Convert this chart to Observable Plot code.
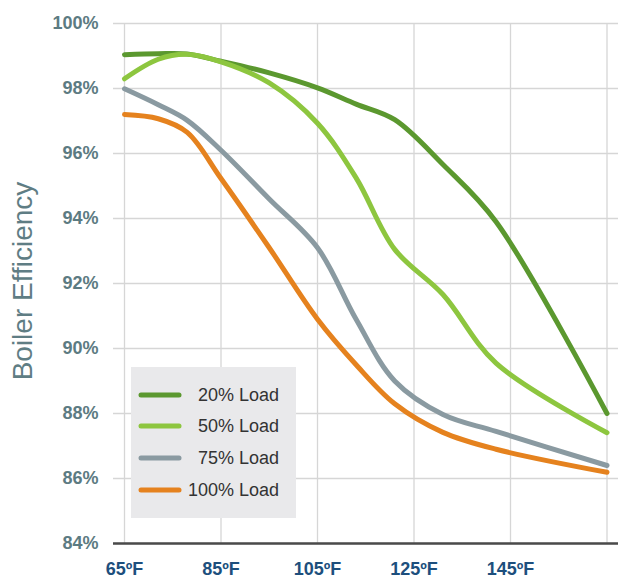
<!DOCTYPE html>
<html>
<head>
<meta charset="utf-8">
<script src="https://cdn.jsdelivr.net/npm/d3@7"></script>
<script src="https://cdn.jsdelivr.net/npm/@observablehq/plot@0.6"></script>
<style>
  body { margin: 0; background: #fff; }
  #chart { position: relative; width: 618px; height: 578px; font-family: "Liberation Sans", Arial, sans-serif; }
  #chart > svg { position: absolute; left: 0; top: 0; }
  #ylabel {
    position: absolute; left: 23px; top: 281px;
    transform: translate(-50%, -50%) rotate(-90deg);
    font-size: 28px; color: #5f7d84; white-space: nowrap; line-height: 1;
  }
  #legend { position: absolute; left: 131px; top: 367px; width: 165px; height: 151px; background: #e9e9eb; }
  #legend .row { position: absolute; left: 0; width: 165px; height: 32px; }
  #legend .row svg { position: absolute; left: 7px; top: 11px; }
  #legend .row span { position: absolute; right: 17px; top: 5px; font-size: 18px; color: #333; line-height: 22px; }
</style>
</head>
<body>
<div id="chart">
  <div id="ylabel">Boiler Efficiency</div>
  <div id="legend"></div>
</div>
<script>
// Outdoor reset temperatures (°F) at which efficiency was read
const temps = [65, 72, 78, 85, 95, 105, 113, 121, 131, 142, 165];

// Boiler efficiency (%) by firing rate
const load20  = [99.04, 99.07, 99.06, 98.84, 98.48, 98.02, 97.52, 97.04, 95.66, 93.9, 88.0];
const load50  = [98.3, 98.9, 99.05, 98.82, 98.17, 96.93, 95.25, 93.05, 91.66, 89.55, 87.41];
const load75  = [97.99, 97.5, 97.02, 96.1, 94.6, 93.1, 90.9, 89.0, 87.97, 87.45, 86.4];
const load100 = [97.2, 97.07, 96.65, 95.23, 93.1, 90.9, 89.5, 88.3, 87.42, 86.9, 86.19];

const seriesNames = ["20% Load", "50% Load", "75% Load", "100% Load"];
const seriesColors = ["#5b982f", "#8dc63f", "#8a9aa1", "#e5821e"];
const seriesValues = [load20, load50, load75, load100];

const yTicks = [84, 86, 88, 90, 92, 94, 96, 98, 100];
const xTicks = [65, 85, 105, 125, 145];
const xGrid = [65, 85, 105, 125, 145, 165];

const rows = seriesNames.flatMap((name, k) =>
  temps.map((t, i) => ({series: name, temp: t, eff: seriesValues[k][i]}))
);

const chart = Plot.plot({
  width: 618,
  height: 578,
  marginTop: 23,
  marginBottom: 35,
  marginLeft: 113,
  marginRight: 0,
  style: {fontFamily: "'Liberation Sans', Arial, sans-serif", fontSize: "18px", fontWeight: "bold", background: "transparent", overflow: "visible"},
  x: {domain: [65, 165], range: [124, 606.5]},
  y: {domain: [84, 100]},
  color: {domain: seriesNames, range: seriesColors},
  marks: [
    Plot.gridY(yTicks, {stroke: "#d6d6d6", strokeOpacity: 1, strokeWidth: 1.3}),
    Plot.gridX(xGrid, {stroke: "#d6d6d6", strokeOpacity: 1, strokeWidth: 1.3}),
    Plot.ruleY([84], {stroke: "#4a4a4a", strokeWidth: 2.6}),
    Plot.axisY(yTicks, {tickSize: 0, tickPadding: 15, tickFormat: d => d + "%", color: "#5c7b82", label: null}),
    Plot.axisX(xTicks, {tickSize: 0, tickPadding: 19, tickFormat: d => d + "ºF", color: "#1d4f7d", label: null}),
    Plot.line(rows, {x: "temp", y: "eff", z: "series", stroke: "series", strokeWidth: 5, curve: "catmull-rom", strokeLinecap: "round", strokeLinejoin: "round"})
  ]
});
const holder = document.getElementById("chart");
holder.insertBefore(chart, holder.firstChild);

// Legend with line swatches
const legend = document.getElementById("legend");
seriesNames.forEach((name, i) => {
  const row = document.createElement("div");
  row.className = "row";
  row.style.top = (11.5 + 31.8 * i) + "px";
  row.innerHTML = `<svg width="44" height="10"><line x1="3" y1="5" x2="41" y2="5" stroke="${seriesColors[i]}" stroke-width="5" stroke-linecap="round"/></svg><span>${name}</span>`;
  legend.appendChild(row);
});
</script>
</body>
</html>
